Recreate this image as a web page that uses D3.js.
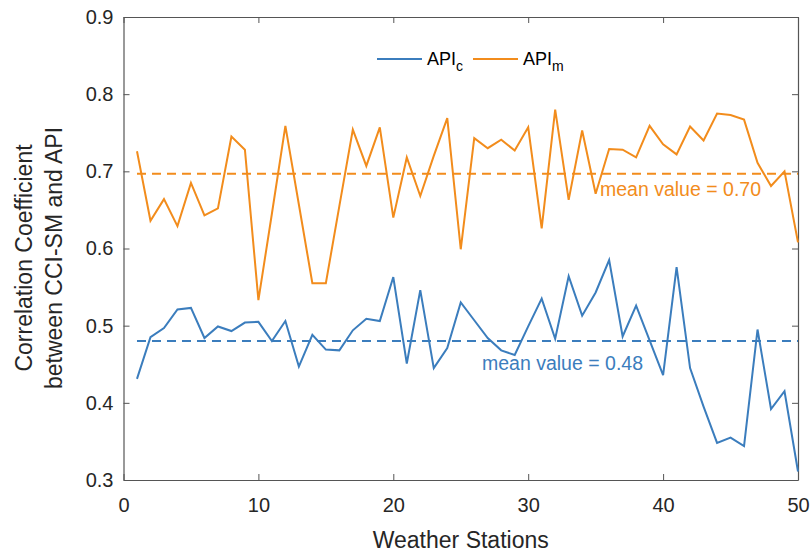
<!DOCTYPE html>
<html>
<head>
<meta charset="utf-8">
<script src="https://cdn.jsdelivr.net/npm/d3@7"></script>
<style>
  body { margin: 0; background: #fff; }
  text { font-family: "Liberation Sans", Arial, sans-serif; }
</style>
</head>
<body>
<div id="chart"></div>
<script>
// station numbers 1..50
var stations = [1,2,3,4,5,6,7,8,9,10,11,12,13,14,15,16,17,18,19,20,
                21,22,23,24,25,26,27,28,29,30,31,32,33,34,35,36,37,38,39,40,
                41,42,43,44,45,46,47,48,49,50];

// API_c correlation (blue)
var apiC = [0.431,0.485,0.497,0.521,0.523,0.484,0.499,0.493,0.504,0.505,
            0.480,0.506,0.447,0.488,0.469,0.468,0.494,0.509,0.506,0.563,
            0.451,0.546,0.445,0.471,0.530,0.507,0.484,0.468,0.462,0.499,
            0.535,0.483,0.564,0.513,0.543,0.585,0.486,0.526,0.481,0.436,
            0.576,0.445,0.395,0.348,0.355,0.344,0.495,0.392,0.415,0.311];

// API_m correlation (orange)
var apiM = [0.726,0.636,0.664,0.629,0.685,0.643,0.652,0.745,0.728,0.533,
            0.645,0.759,0.657,0.555,0.555,0.655,0.754,0.707,0.757,0.640,
            0.718,0.668,0.720,0.769,0.599,0.743,0.730,0.741,0.727,0.757,
            0.626,0.780,0.663,0.753,0.671,0.729,0.728,0.718,0.759,0.735,
            0.722,0.758,0.740,0.775,0.773,0.767,0.711,0.681,0.700,0.608];

var meanC = 0.48, meanM = 0.697;
var xTicks = [0,10,20,30,40,50];
var yTicks = [0.3,0.4,0.5,0.6,0.7,0.8,0.9];

var w = 812, h = 553;
var pLeft = 123.5, pRight = 798, pTop = 17, pBottom = 480;  // plot box
var blue = "#3b7dbd", orange = "#f28c1c", ink = "#262626";

var svg = d3.select("#chart").append("svg")
    .attr("width", w)
    .attr("height", h);

var xScale = d3.scaleLinear().domain([0, 50]).range([pLeft, pRight]);
var yScale = d3.scaleLinear().domain([0.3, 0.9]).range([pBottom, pTop]);

// axes, ticks pointing inwards like matlab
function styleAxis(g) {
  g.select(".domain").attr("stroke", "#555").attr("stroke-width", 1.2);
  g.selectAll(".tick line").attr("stroke", "#555").attr("stroke-width", 1);
  g.selectAll(".tick text").attr("fill", ink).attr("font-size", "20px")
      .attr("font-family", "Liberation Sans, Arial, sans-serif");
}

svg.append("g")
    .attr("transform", "translate(0," + pBottom + ")")
    .call(d3.axisBottom(xScale).tickValues(xTicks).tickSizeInner(-6).tickSizeOuter(0).tickPadding(18))
    .call(styleAxis);

svg.append("g")
    .attr("transform", "translate(0," + pTop + ")")
    .call(d3.axisTop(xScale).tickValues(xTicks).tickSizeInner(-6).tickSizeOuter(0).tickFormat(""))
    .call(styleAxis);

svg.append("g")
    .attr("transform", "translate(" + pLeft + ",0)")
    .call(d3.axisLeft(yScale).tickValues(yTicks).tickSizeInner(-6).tickSizeOuter(0).tickPadding(10).tickFormat(d3.format(".1f")))
    .call(styleAxis);

svg.append("g")
    .attr("transform", "translate(" + pRight + ",0)")
    .call(d3.axisRight(yScale).tickValues(yTicks).tickSizeInner(-6).tickSizeOuter(0).tickFormat(""))
    .call(styleAxis);

// series lines
var line = d3.line()
    .x(function(d, i) { return xScale(stations[i]); })
    .y(function(d) { return yScale(d); });

svg.append("path").datum(apiM)
    .attr("d", line).attr("fill", "none")
    .attr("stroke", orange).attr("stroke-width", 2);

svg.append("path").datum(apiC)
    .attr("d", line).attr("fill", "none")
    .attr("stroke", blue).attr("stroke-width", 2);

// mean lines
[[meanM, orange], [meanC, blue]].forEach(function(m) {
  svg.append("line")
      .attr("x1", xScale(stations[0])).attr("x2", xScale(stations[stations.length - 1]))
      .attr("y1", yScale(m[0])).attr("y2", yScale(m[0]))
      .attr("stroke", m[1]).attr("stroke-width", 2)
      .attr("stroke-dasharray", "9,6");
});

svg.append("text")
    .attr("x", 600).attr("y", yScale(meanM) + 22)
    .attr("fill", orange).attr("font-size", "19.5px")
    .text("mean value = 0.70");

svg.append("text")
    .attr("x", 482).attr("y", yScale(meanC) + 29)
    .attr("fill", blue).attr("font-size", "19.5px")
    .text("mean value = 0.48");

// legend
var legend = [["API", "c", blue, 377], ["API", "m", orange, 473]];
legend.forEach(function(l) {
  svg.append("line")
      .attr("x1", l[3]).attr("x2", l[3] + 45)
      .attr("y1", 59).attr("y2", 59)
      .attr("stroke", l[2]).attr("stroke-width", 2);
  var t = svg.append("text")
      .attr("x", l[3] + 50).attr("y", 65)
      .attr("fill", "#000").attr("font-size", "18px");
  t.append("tspan").text(l[0]);
  t.append("tspan").attr("dy", 6).attr("font-size", "14px").text(l[1]);
});

// axis labels
svg.append("text")
    .attr("text-anchor", "middle")
    .attr("x", (pLeft + pRight) / 2)
    .attr("y", 548)
    .attr("fill", ink).attr("font-size", "23px")
    .text("Weather Stations");

var yl = svg.append("text")
    .attr("text-anchor", "middle")
    .attr("transform", "translate(0,258) rotate(-90)")
    .attr("fill", ink).attr("font-size", "23px");
yl.append("tspan").attr("x", 0).attr("y", 32).text("Correlation Coefficient");
yl.append("tspan").attr("x", 0).attr("y", 62).text("between CCI-SM and API");
</script>
</body>
</html>
